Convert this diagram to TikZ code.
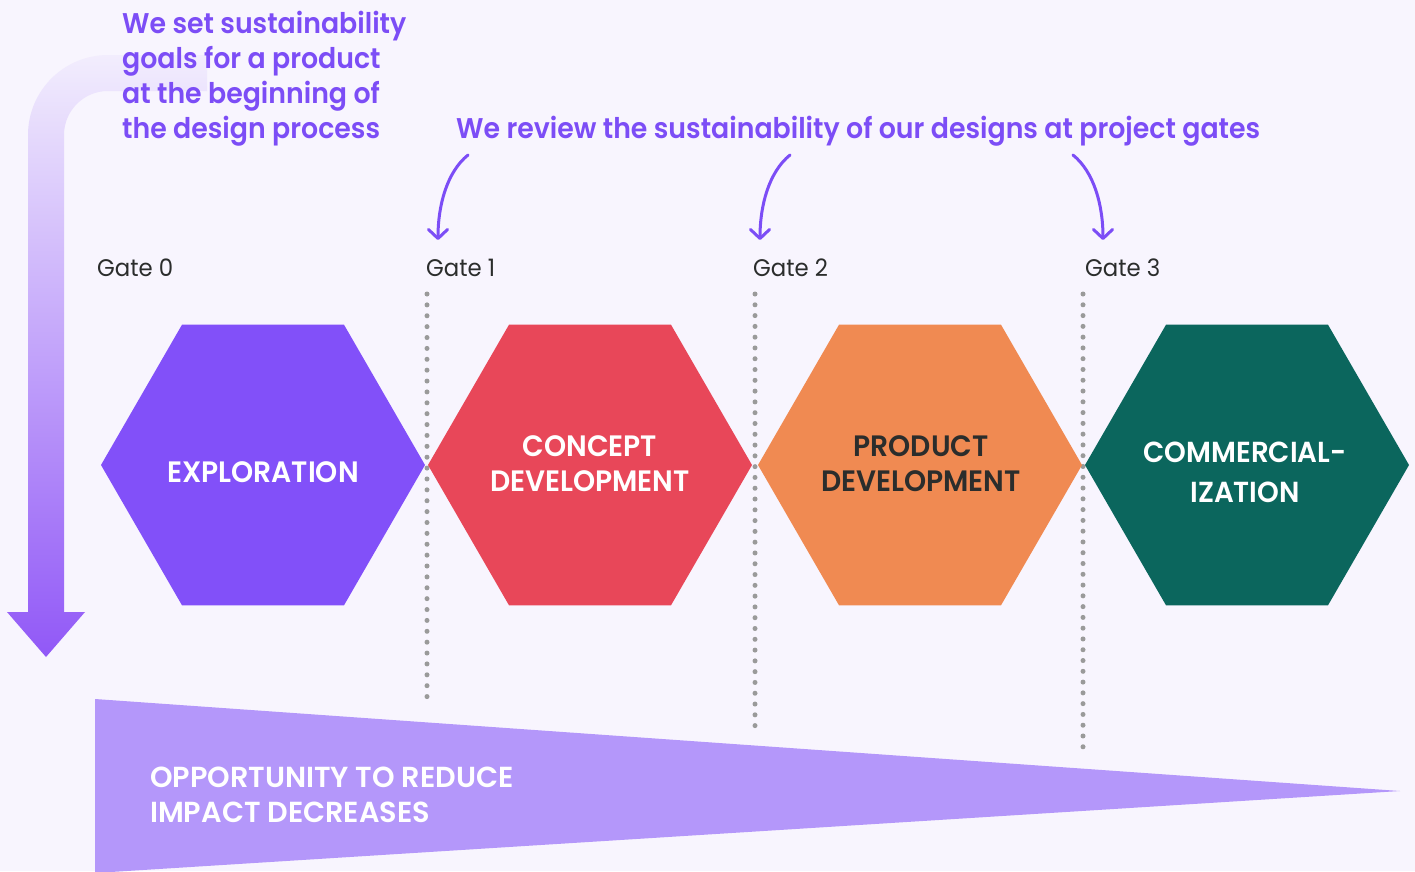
\documentclass[tikz,border=0pt]{standalone}
\usepackage{fontspec}
\usetikzlibrary{shapes.geometric,arrows.meta}
\newfontfamily\purpfont{Poppins SemiBold}[FakeStretch=0.94]
\newfontfamily\capsfont{Poppins SemiBold}[FakeStretch=0.955]
\newfontfamily\oppfont{Poppins SemiBold}[FakeStretch=0.99]
\newfontfamily\gatefont{Poppins}[FakeStretch=0.95]
\definecolor{bgc}{HTML}{F8F5FE}
\definecolor{purp}{HTML}{7C4DF6}
\definecolor{explc}{HTML}{8250F9}
\definecolor{concc}{HTML}{E84759}
\definecolor{prodc}{HTML}{F08A52}
\definecolor{commc}{HTML}{0B665D}
\definecolor{darkt}{HTML}{2B2D2C}
\definecolor{tric}{HTML}{B497FA}
\definecolor{dotc}{HTML}{9A9A9A}
\definecolor{arrtop}{HTML}{F2EDFD}
\definecolor{arrbot}{HTML}{9158F7}
\newcommand\mylines[2]{\vtop{\baselineskip=#1\relax #2}}
\newcommand\lineC[1]{\hbox to 0pt{\hss #1\hss}}
\newcommand\lineL[1]{\hbox{#1}}
\begin{document}
\begin{tikzpicture}[x=1pt,y=-1pt,
  hexa/.style={regular polygon,regular polygon sides=6,minimum size=324pt,inner sep=0pt,outer sep=0pt,draw=none},
  purptext/.style={inner sep=0pt,anchor=base west,text=purp,font=\purpfont\fontsize{28.5}{35}\selectfont},
  hextext/.style={inner sep=0pt,anchor=base,font=\capsfont\fontsize{29.5}{35}\selectfont},
  gatetext/.style={inner sep=0pt,anchor=base west,text=darkt,font=\gatefont\fontsize{24}{28}\selectfont},
  gateline/.style={draw=dotc,line width=5pt,line cap=round},
  reviewarrow/.style={draw=purp,line width=3pt,line cap=round,-{Straight Barb[length=9pt,width=19pt,round]}}]
\useasboundingbox (0,0) rectangle (1415,871);
\fill[bgc] (0,0) rectangle (1415,871);

% bent gradient arrow
\path[top color=arrtop,bottom color=arrbot,draw=none]
  (207,55) -- (108,55) arc[start angle=-90,end angle=-180,radius=80]
  -- (28,612) -- (7,612) -- (46,657) -- (85,612) -- (64,612) -- (64,135)
  arc[start angle=-180,end angle=-90,radius=44] -- (207,91) -- cycle;

% decreasing opportunity wedge
\fill[tric] (95,699) -- (1400,791) -- (95,873) -- cycle;
\node[inner sep=0pt,anchor=base west,text=white,font=\oppfont\fontsize{29}{35}\selectfont] (opp) at (150,787)
  {\mylines{35pt}{\lineL{OPPORTUNITY TO REDUCE}\lineL{IMPACT DECREASES}}};

% gate dotted lines
\coordinate (g1a) at (427,294); \coordinate (g1b) at (427,697);
\coordinate (g2a) at (755,294); \coordinate (g2b) at (755,726);
\coordinate (g3a) at (1083,294); \coordinate (g3b) at (1083,747);
\draw[gateline,dash pattern=on 0pt off 10.88pt] (g1a) -- (g1b);
\draw[gateline,dash pattern=on 0pt off 10.79pt] (g2a) -- (g2b);
\draw[gateline,dash pattern=on 0pt off 10.78pt] (g3a) -- (g3b);

% hexagons
\node[hexa,fill=explc] (hex1) at (263,465) {};
\node[hexa,fill=concc] (hex2) at (590,465) {};
\node[hexa,fill=prodc] (hex3) at (920,465) {};
\node[hexa,fill=commc] (hex4) at (1247,465) {};

\node[hextext,text=white] (t1) at (263,482) {\mylines{35pt}{\lineC{EXPLORATION}}};
\node[hextext,text=white] (t2) at (590,456) {\mylines{35pt}{\lineC{CONCEPT}\lineC{DEVELOPMENT}}};
\node[hextext,text=darkt] (t3) at (921,456) {\mylines{35pt}{\lineC{PRODUCT}\lineC{DEVELOPMENT}}};
\node[hextext,text=white,font=\capsfont\fontsize{29}{35}\selectfont] (t4) at (1245,462) {\mylines{40pt}{\lineC{COMMERCIAL-}\lineC{IZATION}}};

% gate labels
\node[gatetext] (gate0) at (97,276) {Gate 0};
\node[gatetext] (gate1) at (426,276) {Gate 1};
\node[gatetext] (gate2) at (753,276) {Gate 2};
\node[gatetext] (gate3) at (1085,276) {Gate 3};

% purple texts
\node[purptext] (goals) at (122,33)
  {\mylines{35pt}{\lineL{We set sustainability}\lineL{goals for a product}\lineL{at the beginning of}\lineL{the design process}}};
\node[purptext] (review) at (456,138) {We review the sustainability of our designs at project gates};

% review arrows
\coordinate (a1s) at (468,155); \coordinate (a1e) at (438,240);
\coordinate (a2s) at (790,155); \coordinate (a2e) at (760,240);
\coordinate (a3s) at (1073,155); \coordinate (a3e) at (1103,240);
\draw[reviewarrow] (a1s) .. controls (447,172) and (438,205) .. (a1e);
\draw[reviewarrow] (a2s) .. controls (769,172) and (760,205) .. (a2e);
\draw[reviewarrow] (a3s) .. controls (1094,172) and (1103,205) .. (a3e);
\end{tikzpicture}
\end{document}
